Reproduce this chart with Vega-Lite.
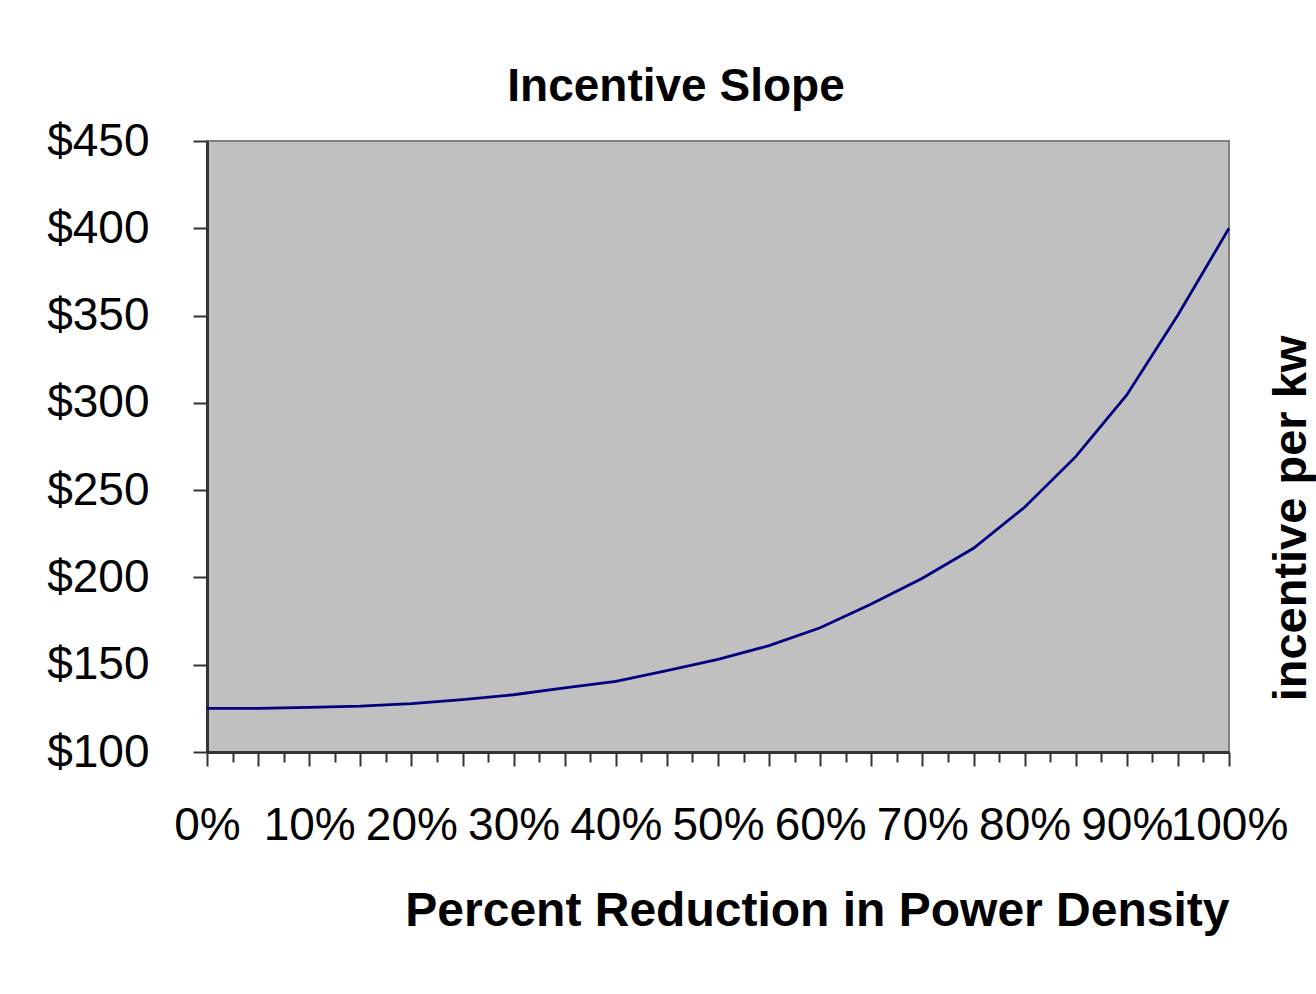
{
  "$schema": "https://vega.github.io/schema/vega-lite/v6.json",
  "width": 1022,
  "height": 611,
  "autosize": "none",
  "padding": {"left": 207, "top": 141, "right": 87, "bottom": 242},
  "background": "white",
  "title": {
    "text": "Incentive Slope",
    "font": "Liberation Sans",
    "fontSize": 46,
    "fontWeight": "bold",
    "color": "black",
    "anchor": "middle",
    "frame": "group",
    "baseline": "alphabetic",
    "dx": -42,
    "offset": -29
  },
  "config": {
    "view": {"fill": "#C0C0C0", "stroke": "#808080", "strokeWidth": 2}
  },
  "data": {
    "values": [
      {"pct": 0, "incentive": 125},
      {"pct": 5, "incentive": 125},
      {"pct": 10, "incentive": 125.6},
      {"pct": 15, "incentive": 126.3},
      {"pct": 20, "incentive": 127.7},
      {"pct": 25, "incentive": 130},
      {"pct": 30, "incentive": 132.8},
      {"pct": 35, "incentive": 136.7},
      {"pct": 40, "incentive": 140.5},
      {"pct": 45, "incentive": 146.6},
      {"pct": 50, "incentive": 153.1},
      {"pct": 55, "incentive": 160.9},
      {"pct": 60, "incentive": 171.2},
      {"pct": 65, "incentive": 184.8},
      {"pct": 70, "incentive": 199.5},
      {"pct": 75, "incentive": 216.7},
      {"pct": 80, "incentive": 240.2},
      {"pct": 85, "incentive": 269.2},
      {"pct": 90, "incentive": 304.5},
      {"pct": 95, "incentive": 350.3},
      {"pct": 100, "incentive": 400}
    ]
  },
  "mark": {"type": "line", "color": "#000080", "strokeWidth": 2.8},
  "encoding": {
    "x": {
      "field": "pct",
      "type": "quantitative",
      "scale": {"domain": [0, 100], "nice": false, "zero": false},
      "axis": {
        "values": [0, 2.5, 5, 7.5, 10, 12.5, 15, 17.5, 20, 22.5, 25, 27.5, 30, 32.5, 35, 37.5, 40, 42.5, 45, 47.5, 50, 52.5, 55, 57.5, 60, 62.5, 65, 67.5, 70, 72.5, 75, 77.5, 80, 82.5, 85, 87.5, 90, 92.5, 95, 97.5, 100],
        "labelExpr": "datum.value % 10 === 0 ? datum.value + '%' : ''",
        "labelOverlap": false,
        "labelFlush": false,
        "labelBound": false,
        "labelFont": "Liberation Sans",
        "labelFontSize": 46,
        "labelColor": "black",
        "labelBaseline": "alphabetic",
        "labelPadding": 73,
        "tickSize": {"condition": {"test": "datum.value % 5 === 0", "value": 14}, "value": 10},
        "tickColor": "#333333",
        "tickWidth": 2,
        "domainColor": "#333333",
        "domainWidth": 3,
        "grid": false,
        "title": "Percent Reduction in Power Density",
        "titleFont": "Liberation Sans",
        "titleFontSize": 48,
        "titleFontWeight": "bold",
        "titleColor": "black",
        "titleAlign": "right",
        "titleAnchor": "end",
        "titleBaseline": "alphabetic",
        "titleX": 1022,
        "titleY": 173
      }
    },
    "y": {
      "field": "incentive",
      "type": "quantitative",
      "scale": {"domain": [100, 450], "nice": false, "zero": false},
      "axis": {
        "values": [100, 150, 200, 250, 300, 350, 400, 450],
        "labelExpr": "'$' + datum.value",
        "labelFont": "Liberation Sans",
        "labelFontSize": 46,
        "labelColor": "black",
        "labelPadding": 44,
        "labelFlush": false,
        "labelBound": false,
        "labelOverlap": false,
        "tickSize": 14,
        "tickColor": "#333333",
        "tickWidth": 2,
        "domainColor": "#333333",
        "domainWidth": 3,
        "grid": false,
        "title": "incentive per kw",
        "titleFont": "Liberation Sans",
        "titleFontSize": 47,
        "titleFontWeight": "bold",
        "titleColor": "black",
        "titleAngle": 270,
        "titleAlign": "center",
        "titleBaseline": "alphabetic",
        "titleX": 1098,
        "titleY": 377
      }
    }
  }
}
